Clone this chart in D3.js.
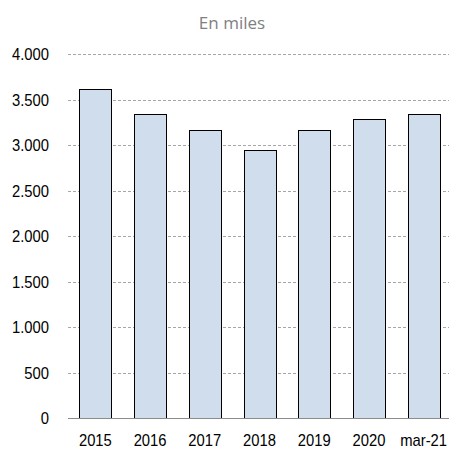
<!DOCTYPE html>
<html lang="es">
<head>
<meta charset="UTF-8">
<title>En miles</title>
<script src="https://d3js.org/d3.v7.min.js"></script>
<style>
  body { margin: 0; background: #fff; }
</style>
</head>
<body>
<div id="chart"></div>
<script>
const categories = ["2015", "2016", "2017", "2018", "2019", "2020", "mar-21"];
const values = [3610, 3340, 3160, 2950, 3160, 3290, 3340];
const yTicks = [0, 500, 1000, 1500, 2000, 2500, 3000, 3500, 4000];
const title = "En miles";

const W = 449, H = 450;
const margin = { top: 54, right: -2, bottom: 32, left: 68 };
const width = W - margin.left - margin.right;
const height = H - margin.top - margin.bottom;

const svg = d3.select("#chart")
  .append("svg")
  .attr("width", W)
  .attr("height", H);

const g = svg.append("g")
  .attr("transform", `translate(${margin.left},${margin.top})`);

const x = d3.scaleBand()
  .domain(categories)
  .range([0, width])
  .paddingInner(0.42)
  .paddingOuter(0.21);

const y = d3.scaleLinear()
  .domain([0, 4000])
  .range([height, 0]);

const fmt = d => d3.format(",")(d).replace(/,/g, ".");

// gridlines
g.selectAll(".grid")
  .data(yTicks.filter(d => d > 0))
  .enter().append("line")
  .attr("x1", 0)
  .attr("x2", width)
  .attr("y1", d => Math.round(y(d)) + 0.5)
  .attr("y2", d => Math.round(y(d)) + 0.5)
  .attr("stroke", "#a6a6a6")
  .attr("stroke-dasharray", "3,2");

// y labels (narrow-looking font: squeeze horizontally)
g.selectAll(".ylab")
  .data(yTicks)
  .enter().append("text")
  .attr("transform", d => `translate(-19,${y(d)}) scale(0.87,1)`)
  .attr("dy", "0.36em")
  .attr("text-anchor", "end")
  .style("font-family", "'Liberation Sans', Arial, sans-serif")
  .style("font-size", "17px")
  .attr("fill", "#000")
  .text(fmt);

// bars
g.selectAll("rect")
  .data(values)
  .enter().append("rect")
  .attr("x", (d, i) => Math.round(x(categories[i])) + 0.5)
  .attr("y", d => Math.round(y(d)) + 0.5)
  .attr("width", Math.round(x.bandwidth()))
  .attr("height", d => Math.round(height - y(d)))
  .attr("fill", "#d0ddec")
  .attr("stroke", "#000")
  .attr("stroke-width", 1);

// x axis line
g.append("line")
  .attr("x1", 0)
  .attr("x2", width)
  .attr("y1", Math.round(height) + 0.5)
  .attr("y2", Math.round(height) + 0.5)
  .attr("stroke", "#8c8c8c");

// x labels
g.selectAll(".xlab")
  .data(categories)
  .enter().append("text")
  .attr("transform", d => `translate(${x(d) + x.bandwidth() / 2},${height + 28}) scale(0.87,1)`)
  .attr("text-anchor", "middle")
  .style("font-family", "'Liberation Sans', Arial, sans-serif")
  .style("font-size", "17px")
  .attr("fill", "#000")
  .text(d => d);

// title
svg.append("text")
  .attr("x", 232)
  .attr("y", 29)
  .attr("text-anchor", "middle")
  .style("font-family", "'Open Sans', sans-serif")
  .style("font-size", "17px")
  .attr("fill", "#808080")
  .text(title);
</script>
</body>
</html>
